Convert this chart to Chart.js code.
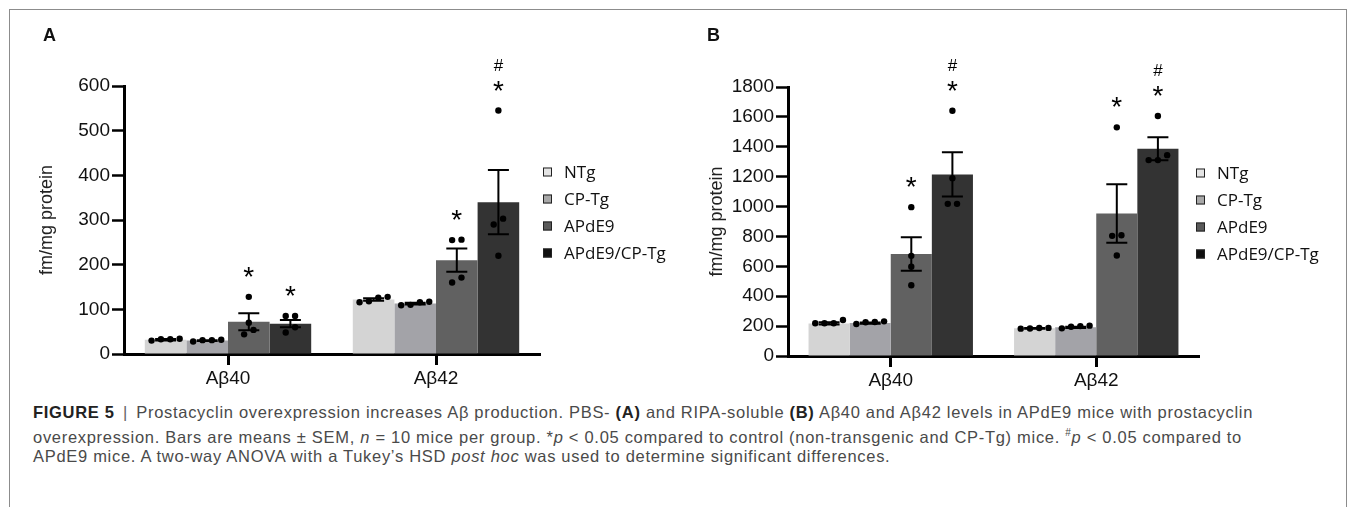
<!DOCTYPE html>
<html>
<head>
<meta charset="utf-8">
<script src="https://cdn.jsdelivr.net/npm/chart.js@4.4.1/dist/chart.umd.min.js"></script>
<style>
  html, body { margin: 0; padding: 0; background: #fff; width: 1355px; height: 507px; overflow: hidden; }
  #frame { position: absolute; left: 9px; top: 9px; width: 1336px; height: 560px; border: 1.5px solid #8c8c8c; }
  canvas { position: absolute; top: 0; }
  .tag { position: absolute; top: 25px; font: bold 18px "Liberation Sans", Arial, sans-serif; color: #111; }
  #caption { position: absolute; left: 33px; top: 403px; font: 16.5px "Liberation Sans", Arial, sans-serif;
             letter-spacing: 0.7px; line-height: 19.5px; color: #4a4a4a; white-space: nowrap; }
  #caption b { color: #222; }
  #caption .sep { color: #666; padding: 0 3px; }
</style>
</head>
<body>
<div id="frame"></div>
<canvas id="barsA" width="690" height="400" style="left:0"></canvas>
<canvas id="dotsA" width="690" height="400" style="left:0"></canvas>
<canvas id="barsB" width="660" height="400" style="left:690px"></canvas>
<canvas id="dotsB" width="660" height="400" style="left:690px"></canvas>
<div class="tag" style="left:43px">A</div>
<div class="tag" style="left:707px">B</div>
<div id="caption">
  <b>FIGURE 5</b> <span class="sep">|</span> Prostacyclin overexpression increases Aβ production. PBS- <b>(A)</b> and RIPA-soluble <b>(B)</b> Aβ40 and Aβ42 levels in APdE9 mice with prostacyclin<br>
  overexpression. Bars are means ± SEM, <i>n</i> = 10 mice per group. *<i>p</i> &lt; 0.05 compared to control (non-transgenic and CP-Tg) mice. <sup style="font-size:10px">#</sup><i>p</i> &lt; 0.05 compared to<br>
  APdE9 mice. A two-way ANOVA with a Tukey’s HSD <i>post hoc</i> was used to determine significant differences.
</div>
<script>
const categories = ['Aβ40', 'Aβ42'];
const groups = ['NTg', 'CP-Tg', 'APdE9', 'APdE9/CP-Tg'];
const barColors = ['#d4d4d4', '#a3a3a8', '#616161', '#333333'];
const swatchColors = ['#e4e4e4', '#a8a8a8', '#5a5a5a', '#101010'];

// panel A (PBS-soluble), one row per group: [Aβ40, Aβ42]
const meansA = [[32, 122], [30, 113], [72, 210], [68, 340]];
const semA = [[1.5, 3], [1, 2], [19, 26], [8, 72]];
const dotsA = [
  [[30, 34, 33, 33], [128, 126, 116, 118]],
  [[31, 32, 31, 28], [109, 117, 116, 110]],
  [[128, 70, 54, 44], [255, 256, 160, 171]],
  [[85, 85, 60, 48], [545, 303, 290, 220]]
];
const marksA = [['', ''], ['', ''], ['*', '*'], ['*', '*#']];
const yTicksA = [0, 100, 200, 300, 400, 500, 600];

// panel B (RIPA-soluble)
const meansB = [[218, 185], [220, 192], [683, 954], [1215, 1387]];
const semB = [[8, 3], [5, 4], [112, 196], [148, 77]];
const dotsB = [
  [[219, 241, 219, 219], [184, 188, 187, 183]],
  [[214, 232, 228, 226], [185, 200, 196, 203]],
  [[996, 670, 598, 473], [1530, 808, 804, 672]],
  [[1641, 1190, 1018, 1018], [1606, 1344, 1311, 1311]]
];
const marksB = [['', ''], ['', ''], ['*', '*'], ['*#', '*#']];
const yTicksB = [0, 200, 400, 600, 800, 1000, 1200, 1400, 1600, 1800];

const axisFont = { family: '"Liberation Sans", Arial, sans-serif', size: 19 };

// spread dots that sit at about the same height side by side
function spread(vals, tol) {
  const idx = vals.map((v, i) => i).sort((a, b) => vals[a] - vals[b]);
  const out = new Array(vals.length).fill(0);
  let cluster = [idx[0]];
  const flush = () => {
    cluster.forEach((k, n) => { out[k] = (n - (cluster.length - 1) / 2) * 0.045; });
  };
  for (let n = 1; n < idx.length; n++) {
    if (vals[idx[n]] - vals[idx[n - 1]] < tol) cluster.push(idx[n]);
    else { flush(); cluster = [idx[n]]; }
  }
  flush();
  return out;
}

function drawCentered(ctx, txt, x, y, font) {
  ctx.font = font;
  ctx.textAlign = 'center';
  ctx.textBaseline = 'alphabetic';
  const m = ctx.measureText(txt);
  ctx.fillText(txt, x, y + (m.actualBoundingBoxAscent - m.actualBoundingBoxDescent) / 2);
}

// error bars, significance marks and legend
const extras = {
  id: 'extras',
  afterDatasetsDraw(chart, args, opts) {
    const ctx = chart.ctx;
    const y = chart.scales.y;
    ctx.save();
    opts.means.forEach((row, g) => {
      const meta = chart.getDatasetMeta(g);
      row.forEach((m, c) => {
        const bx = meta.data[c].x;
        const s = opts.sem[g][c];
        const top = y.getPixelForValue(m + s);
        const bot = y.getPixelForValue(m - s);
        ctx.strokeStyle = '#000';
        ctx.lineWidth = 2;
        ctx.beginPath();
        ctx.moveTo(bx, top); ctx.lineTo(bx, bot);
        ctx.moveTo(bx - 10.5, top); ctx.lineTo(bx + 10.5, top);
        ctx.moveTo(bx - 10.5, bot); ctx.lineTo(bx + 10.5, bot);
        ctx.stroke();

        const mk = opts.marks[g][c];
        if (!mk) return;
        const highest = Math.max(m + s, ...opts.dots[g][c]);
        const py = y.getPixelForValue(highest) - 25;
        ctx.fillStyle = '#000';
        drawCentered(ctx, '*', bx, py, '28px "Liberation Sans", Arial, sans-serif');
        if (mk.includes('#')) drawCentered(ctx, '#', bx, py - 21, '17px "Liberation Sans", Arial, sans-serif');
      });
    });

    const lg = opts.legend;
    ctx.font = '17px "Open Sans", sans-serif';
    ctx.textBaseline = 'middle';
    ctx.textAlign = 'left';
    groups.forEach((name, g) => {
      const cy = lg.y + g * 27;
      ctx.fillStyle = swatchColors[g];
      ctx.fillRect(lg.x, cy - 4.5, 9, 9);
      ctx.strokeStyle = '#222';
      ctx.lineWidth = 1;
      ctx.strokeRect(lg.x + 0.5, cy - 4, 8, 8);
      ctx.fillStyle = '#111';
      ctx.fillText(name, lg.x + 21, cy + 1);
    });
    ctx.restore();
  }
};

function makePanel(barsId, dotsId, p) {
  const maxY = p.ticks[p.ticks.length - 1];

  new Chart(document.getElementById(barsId), {
    type: 'bar',
    data: {
      labels: categories,
      datasets: groups.map((name, g) => ({
        label: name, data: p.means[g], backgroundColor: barColors[g], borderWidth: 0,
        categoryPercentage: 0.8, barPercentage: 1.0
      }))
    },
    options: {
      responsive: false,
      animation: false,
      events: [],
      layout: { padding: p.padding },
      scales: {
        x: {
          offset: true,
          grid: { offset: false, drawOnChartArea: false, drawTicks: true, tickLength: 11, tickWidth: 3, color: '#000' },
          border: { display: true, color: '#000', width: 3 },
          ticks: { font: axisFont, color: '#111', padding: 2 },
          afterFit: s => { s.height = p.xHeight; }
        },
        y: {
          min: 0, max: maxY,
          afterBuildTicks: s => { s.ticks = p.ticks.map(v => ({ value: v })); },
          grid: { drawOnChartArea: false, drawTicks: true, tickLength: 12, tickWidth: 2.5, color: '#000' },
          border: { display: true, color: '#000', width: 3 },
          ticks: { font: axisFont, color: '#111', padding: 2, callback: v => String(v) },
          title: { display: true, text: 'fm/mg protein', font: { family: '"Liberation Sans", Arial, sans-serif', size: 18 },
                   color: '#222', padding: { top: p.titlePad, bottom: 0 } },
          afterFit: s => { s.width = p.yWidth; }
        }
      },
      plugins: {
        legend: { display: false },
        tooltip: { enabled: false },
        extras: { means: p.means, sem: p.sem, dots: p.dots, marks: p.marks, legend: p.legend }
      }
    },
    plugins: [extras]
  });

  // individual animals, on a transparent chart with the same plot area
  new Chart(document.getElementById(dotsId), {
    type: 'scatter',
    data: {
      datasets: groups.map((name, g) => {
        const pts = [];
        categories.forEach((cat, c) => {
          const vals = p.dots[g][c];
          const jit = spread(vals, maxY * 0.025);
          vals.forEach((v, k) => pts.push({ x: c + (g - 1.5) * 0.2 + jit[k], y: v }));
        });
        return { label: name, data: pts, pointRadius: 3.2, pointBackgroundColor: '#000', pointBorderWidth: 0, clip: false };
      })
    },
    options: {
      responsive: false,
      animation: false,
      events: [],
      layout: { padding: p.plotInset },
      scales: {
        x: { type: 'linear', min: -0.5, max: categories.length - 0.5, display: false },
        y: { type: 'linear', min: 0, max: maxY, display: false }
      },
      plugins: { legend: { display: false }, tooltip: { enabled: false } }
    }
  });
}

makePanel('barsA', 'dotsA', {
  means: meansA, sem: semA, dots: dotsA, marks: marksA, ticks: yTicksA,
  padding: { left: 10, top: 86, right: 150, bottom: 0 }, yWidth: 114, xHeight: 46, titlePad: 26,
  plotInset: { left: 124, top: 86, right: 150, bottom: 46 },
  legend: { x: 543, y: 172 }
});
makePanel('barsB', 'dotsB', {
  means: meansB, sem: semB, dots: dotsB, marks: marksB, ticks: yTicksB,
  padding: { left: 0, top: 87, right: 151, bottom: 0 }, yWidth: 98, xHeight: 44, titlePad: 16,
  plotInset: { left: 98, top: 87, right: 151, bottom: 44 },
  legend: { x: 506, y: 173 }
});
</script>
</body>
</html>
